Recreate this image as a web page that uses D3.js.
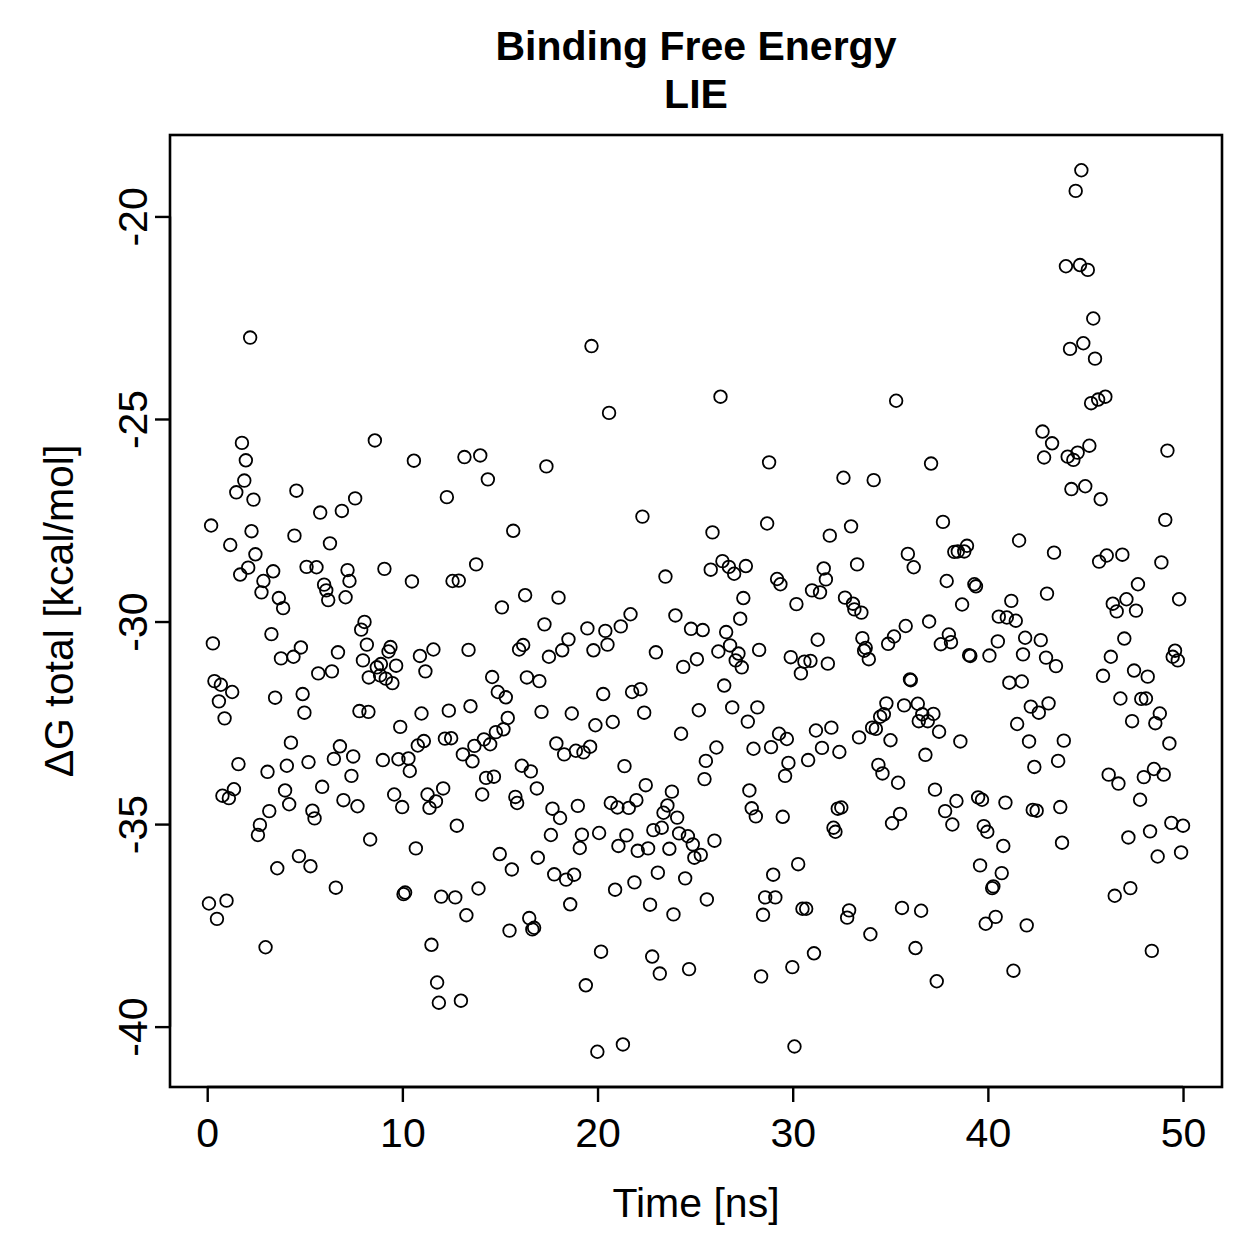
<!DOCTYPE html>
<html>
<head>
<meta charset="utf-8">
<script src="https://cdn.jsdelivr.net/npm/d3@7"></script>
<style>
  body { margin: 0; background: #fff; }
  text { font-family: "Liberation Sans", Arial, Helvetica, sans-serif; fill: #000; }
</style>
</head>
<body>
<svg id="chart" width="1259" height="1259"></svg>
<script>
// LIE binding free energy per frame
const time = [
  0.20, 0.29, 0.09, 0.37, 0.50, 0.60, 0.70, 0.78, 0.89, 0.99,
  1.11, 1.18, 1.28, 1.37, 1.49, 1.60, 1.69, 1.78, 1.90, 1.98,
  2.10, 2.20, 2.27, 2.37, 2.47, 2.60, 2.70, 2.78, 2.88, 2.99,
  3.09, 3.18, 3.29, 3.38, 3.48, 3.59, 3.67, 3.78, 3.89, 3.99,
  4.08, 4.20, 4.29, 4.42, 4.47, 4.57, 4.70, 4.80, 4.89, 4.98,
  5.09, 5.19, 5.29, 5.39, 5.50, 5.60, 5.69, 5.79, 5.89, 5.99,
  6.10, 6.20, 6.29, 6.39, 6.49, 6.59, 6.70, 6.80, 6.90, 6.98,
  7.09, 7.19, 7.29, 7.39, 7.48, 7.58, 7.70, 7.80, 7.89, 7.98,
  8.06, 8.18, 8.26, 8.28, 8.35, 8.59, 8.69, 8.90, 8.86, 9.00,
  9.08, 9.15, 9.29, 9.39, 9.49, 9.58, 9.68, 9.80, 9.89, 9.99,
  10.06, 10.14, 10.31, 10.38, 10.49, 10.59, 10.69, 10.79, 10.90, 10.98,
  11.10, 11.18, 11.29, 11.39, 11.49, 11.59, 11.72, 11.78, 11.87, 11.99,
  12.09, 12.18, 12.28, 12.38, 12.50, 12.57, 12.71, 12.79, 12.89, 13.00,
  13.10, 13.18, 13.28, 13.39, 13.49, 13.59, 13.69, 13.78, 13.90, 13.99,
  14.09, 14.18, 14.29, 14.38, 14.50, 14.60, 14.69, 14.79, 14.89, 14.99,
  15.10, 15.18, 15.30, 15.40, 15.49, 15.61, 15.68, 15.79, 15.88, 15.98,
  16.12, 16.19, 16.29, 16.38, 16.50, 16.58, 16.66, 16.75, 16.89, 16.94,
  17.02, 17.13, 17.28, 17.38, 17.51, 17.61, 17.69, 17.78, 17.89, 18.00,
  18.08, 18.19, 18.29, 18.39, 18.51, 18.60, 18.68, 18.80, 18.89, 18.99,
  19.09, 19.20, 19.28, 19.40, 19.48, 19.62, 19.69, 19.79, 19.89, 19.99,
  20.08, 20.18, 20.29, 20.40, 20.51, 20.59, 20.68, 20.78, 20.90, 21.02,
  21.07, 21.19, 21.30, 21.38, 21.48, 21.60, 21.69, 21.77, 21.89, 21.99,
  22.06, 22.20, 22.30, 22.39, 22.47, 22.59, 22.69, 22.80, 22.86, 22.99,
  23.09, 23.19, 23.29, 23.38, 23.48, 23.58, 23.68, 23.81, 23.89, 23.99,
  24.08, 24.18, 24.28, 24.39, 24.49, 24.63, 24.69, 24.79, 24.88, 24.96,
  25.09, 25.19, 25.29, 25.39, 25.48, 25.55, 25.60, 25.80, 25.89, 25.99,
  26.09, 26.19, 26.30, 26.40, 26.49, 26.59, 26.73, 26.79, 26.90, 27.00,
  27.08, 27.22, 27.31, 27.39, 27.47, 27.60, 27.70, 27.78, 27.90, 27.99,
  28.11, 28.19, 28.28, 28.38, 28.48, 28.59, 28.69, 28.79, 28.89, 29.00,
  29.11, 29.20, 29.30, 29.37, 29.49, 29.61, 29.70, 29.78, 29.90, 29.98,
  30.09, 30.19, 30.28, 30.42, 30.50, 30.60, 30.69, 30.79, 30.91, 30.99,
  31.09, 31.19, 31.28, 31.40, 31.50, 31.59, 31.70, 31.80, 31.90, 31.98,
  32.09, 32.19, 32.31, 32.39, 32.49, 32.60, 32.68, 32.79, 32.89, 32.99,
  33.09, 33.16, 33.30, 33.40, 33.52, 33.57, 33.66, 33.74, 33.90, 33.98,
  34.07, 34.15, 34.26, 34.39, 34.48, 34.60, 34.67, 34.80, 34.89, 35.01,
  35.09, 35.19, 35.30, 35.40, 35.50, 35.60, 35.71, 35.79, 35.90, 36.01,
  36.05, 36.20, 36.29, 36.41, 36.46, 36.58, 36.64, 36.80, 36.92, 36.99,
  37.09, 37.21, 37.29, 37.38, 37.50, 37.59, 37.70, 37.81, 37.89, 38.00,
  38.11, 38.18, 38.28, 38.39, 38.46, 38.59, 38.68, 38.79, 38.93, 39.04,
  39.10, 39.31, 39.39, 39.50, 39.60, 39.70, 39.79, 39.89, 39.97, 40.08,
  40.22, 40.28, 40.40, 40.51, 40.56, 40.71, 40.79, 40.90, 40.97, 41.10,
  41.20, 41.31, 41.43, 41.50, 41.60, 41.74, 41.80, 41.91, 41.99, 42.11,
  42.20, 42.30, 42.38, 42.50, 42.61, 42.71, 42.80, 42.88, 42.98, 43.03,
  43.11, 43.29, 43.39, 43.49, 43.60, 43.71, 43.80, 43.89, 44.00, 44.09,
  44.21, 44.28, 44.38, 44.50, 44.60, 44.72, 44.79, 44.89, 44.99, 45.12,
  45.20, 45.29, 45.40, 45.49, 45.65, 45.70, 45.78, 45.90, 46.02, 46.09,
  46.19, 46.30, 46.40, 46.50, 46.60, 46.69, 46.79, 46.89, 46.99, 47.10,
  47.20, 47.30, 47.39, 47.49, 47.59, 47.69, 47.80, 47.86, 47.99, 48.10,
  48.19, 48.31, 48.40, 48.51, 48.58, 48.70, 48.81, 48.89, 49.01, 49.09,
  49.20, 49.30, 49.40, 49.47, 49.59, 49.73, 49.80, 49.90, 50.00
];

const dG = [
  -27.63, -30.54, -36.96, -31.47, -37.34, -31.97, -31.56, -34.30, -32.39, -36.89,
  -34.36, -28.11, -31.74, -34.14, -26.81, -33.52, -28.84, -25.59, -26.52, -26.02,
  -28.67, -22.99, -27.77, -26.99, -28.34, -35.27, -35.02, -29.28, -29.00, -38.04,
  -33.71, -34.68, -30.31, -28.76, -31.88, -36.09, -29.42, -30.91, -29.67, -34.17,
  -33.56, -34.51, -32.99, -30.87, -27.88, -26.77, -35.79, -30.64, -31.79, -32.25,
  -28.65, -33.47, -36.04, -34.67, -34.86, -28.66, -31.28, -27.31, -34.08, -29.09,
  -29.23, -29.47, -28.07, -31.23, -33.39, -36.57, -30.76, -33.08, -27.27, -34.41,
  -29.40, -28.73, -29.00, -33.81, -33.33, -26.96, -34.56, -32.21, -30.20, -30.96,
  -30.01, -30.57, -32.23, -31.38, -35.38, -25.53, -31.13, -31.05, -31.33, -33.42,
  -28.70, -31.41, -30.74, -30.63, -31.52, -34.27, -31.09, -33.40, -32.60, -34.58,
  -36.73, -36.69, -33.38, -33.69, -29.01, -26.03, -35.60, -33.06, -30.85, -32.27,
  -32.95, -31.23, -34.27, -34.60, -37.98, -30.69, -34.44, -38.91, -39.41, -36.79,
  -34.12, -32.89, -26.93, -32.20, -32.88, -29.00, -36.81, -35.04, -28.99, -39.36,
  -33.28, -25.94, -37.25, -30.70, -32.09, -33.45, -33.07, -28.59, -36.59, -25.90,
  -34.27, -32.91, -33.86, -26.49, -33.03, -31.37, -33.83, -32.73, -31.74, -35.74,
  -29.65, -32.66, -31.87, -32.38, -37.63, -36.12, -27.76, -34.33, -34.48, -30.69,
  -33.56, -30.58, -29.35, -31.38, -37.32, -33.70, -37.60, -37.56, -34.12, -35.83,
  -31.47, -32.23, -30.07, -26.17, -30.87, -35.27, -34.62, -36.24, -33.01, -29.41,
  -34.85, -30.71, -33.28, -36.37, -30.44, -36.98, -32.27, -36.25, -33.19, -34.55,
  -35.59, -35.26, -33.23, -38.98, -30.17, -33.09, -23.20, -30.71, -32.56, -40.62,
  -35.22, -38.15, -31.79, -30.23, -30.57, -24.85, -34.48, -32.48, -36.62, -34.59,
  -35.54, -30.12, -40.44, -33.57, -35.28, -34.60, -29.82, -31.74, -36.44, -34.41,
  -35.66, -31.67, -27.41, -32.25, -34.04, -35.60, -36.99, -38.27, -35.15, -30.76,
  -36.20, -38.69, -35.09, -34.72, -28.89, -34.54, -35.61, -34.20, -37.23, -29.85,
  -34.84, -35.23, -32.77, -31.12, -36.34, -35.30, -38.58, -30.18, -35.50, -35.83,
  -30.93, -32.19, -35.76, -30.21, -33.89, -33.44, -36.86, -28.72, -27.80, -35.41,
  -33.11, -30.74, -24.45, -28.51, -31.58, -30.26, -28.65, -30.59, -32.12, -28.82,
  -30.96, -30.79, -29.93, -31.13, -29.42, -28.63, -32.47, -34.17, -34.61, -33.14,
  -34.81, -32.12, -30.70, -38.76, -37.24, -36.81, -27.58, -26.07, -33.10, -36.25,
  -36.81, -28.95, -32.77, -29.08, -34.82, -33.81, -32.90, -33.49, -30.88, -38.53,
  -40.49, -29.57, -35.99, -31.28, -37.09, -30.99, -37.09, -33.42, -30.97, -29.23,
  -38.19, -32.69, -30.45, -29.28, -33.12, -28.69, -28.96, -31.04, -27.88, -32.62,
  -35.09, -35.19, -34.62, -33.22, -34.59, -26.45, -29.41, -37.31, -37.13, -27.65,
  -29.56, -29.70, -28.59, -32.86, -29.78, -30.41, -30.72, -30.65, -30.93, -37.72,
  -32.62, -26.51, -32.65, -33.54, -32.35, -33.75, -32.29, -32.02, -30.55, -32.93,
  -34.98, -30.37, -24.55, -33.98, -34.75, -37.07, -32.07, -30.11, -28.33, -31.43,
  -31.45, -28.66, -38.06, -32.03, -32.46, -37.14, -32.29, -33.29, -32.46, -30.00,
  -26.10, -32.28, -34.15, -38.88, -32.72, -30.56, -27.54, -34.68, -29.00, -30.32,
  -30.51, -35.01, -28.28, -34.43, -28.27, -32.96, -29.58, -28.27, -28.13, -30.83,
  -30.85, -29.08, -29.13, -34.34, -36.02, -34.40, -35.05, -37.46, -35.19, -30.84,
  -36.58, -36.54, -37.29, -30.49, -29.88, -36.21, -35.54, -34.47, -29.90, -31.51,
  -29.49, -38.62, -29.98, -32.53, -28.00, -31.48, -30.81, -30.40, -37.50, -32.96,
  -32.10, -34.65, -33.59, -34.67, -32.25, -30.46, -25.31, -25.95, -30.89, -29.31,
  -32.02, -25.60, -28.30, -31.10, -33.44, -34.58, -35.46, -32.94, -21.23, -25.93,
  -23.27, -26.73, -26.01, -19.37, -25.83, -21.20, -18.86, -23.13, -26.66, -21.32,
  -25.66, -24.61, -22.52, -23.51, -24.52, -28.52, -26.98, -31.34, -24.45, -28.37,
  -33.78, -30.87, -29.56, -36.77, -29.75, -34.00, -31.90, -28.35, -30.42, -29.45,
  -35.33, -36.58, -32.46, -31.21, -29.73, -29.08, -34.40, -31.91, -33.84, -31.90,
  -31.36, -35.18, -38.13, -33.64, -32.51, -35.80, -32.27, -28.54, -33.78, -27.49,
  -25.78, -33.01, -34.97, -30.87, -30.72, -30.96, -29.45, -35.70, -35.04
];

const xTicks = [0, 10, 20, 30, 40, 50];
const yTicks = [-40, -35, -30, -25, -20];
const titleLines = ['Binding Free Energy', 'LIE'];
const xLabel = 'Time [ns]';
const yLabel = 'ΔG total [kcal/mol]';

const points = time.map((t, i) => ({ t: t, g: dG[i] }));

const box = { left: 170, right: 1222, top: 135, bottom: 1087 };
const fontSize = 41;

// R style: data range stretched by 4% on each side
function padded(ext) {
  let d = (ext[1] - ext[0]) * 0.04;
  return [ext[0] - d, ext[1] + d];
}

const x = d3.scaleLinear()
  .domain(padded(d3.extent(time)))
  .range([box.left, box.right]);

const y = d3.scaleLinear()
  .domain(padded(d3.extent(dG)))
  .range([box.bottom, box.top]);

const svg = d3.select('#chart');

// points
svg.append('g')
  .selectAll('circle')
  .data(points)
  .join('circle')
  .attr('cx', (d) => x(d.t))
  .attr('cy', (d) => y(d.g))
  .attr('r', 6.3)
  .attr('fill', 'none')
  .attr('stroke', '#000')
  .attr('stroke-width', 1.8);

// x axis
let xAxis = svg.append('g')
  .attr('transform', `translate(0,${box.bottom})`)
  .call(d3.axisBottom(x).tickValues(xTicks).tickSize(15).tickSizeOuter(0).tickPadding(16));

// y axis
let yAxis = svg.append('g')
  .attr('transform', `translate(${box.left},0)`)
  .call(d3.axisLeft(y).tickValues(yTicks).tickSize(15).tickSizeOuter(0)
    .tickFormat((d) => d3.format('d')(d).replace('−', '-')));

[xAxis, yAxis].forEach((ax) => {
  ax.select('.domain').remove();
  ax.selectAll('.tick line').attr('stroke', '#000').attr('stroke-width', 2.4);
  ax.selectAll('.tick text').attr('font-size', fontSize).attr('fill', '#000');
});

// R draws the axis line only from first to last tick
xAxis.append('line')
  .attr('x1', x(xTicks[0])).attr('x2', x(xTicks[xTicks.length - 1]))
  .attr('stroke', '#000').attr('stroke-width', 2.4);
yAxis.append('line')
  .attr('y1', y(yTicks[0])).attr('y2', y(yTicks[yTicks.length - 1]))
  .attr('stroke', '#000').attr('stroke-width', 2.4);

xAxis.selectAll('.tick text').attr('dy', '0.71em');

yAxis.selectAll('.tick text')
  .attr('x', 0)
  .attr('y', -23)
  .attr('dy', 0)
  .attr('text-anchor', 'middle')
  .attr('transform', 'rotate(-90)');

// frame
svg.append('rect')
  .attr('x', box.left)
  .attr('y', box.top)
  .attr('width', box.right - box.left)
  .attr('height', box.bottom - box.top)
  .attr('fill', 'none')
  .attr('stroke', '#000')
  .attr('stroke-width', 2.6);

// titles
let cx = (box.left + box.right) / 2;
svg.selectAll('.title')
  .data(titleLines)
  .join('text')
  .attr('class', 'title')
  .attr('x', cx)
  .attr('y', (d, i) => 60 + i * 48)
  .attr('text-anchor', 'middle')
  .attr('font-size', fontSize)
  .attr('font-weight', 'bold')
  .text((d) => d);

svg.append('text')
  .attr('x', cx)
  .attr('y', 1217)
  .attr('text-anchor', 'middle')
  .attr('font-size', fontSize)
  .text(xLabel);

svg.append('text')
  .attr('transform', `translate(73,${(box.top + box.bottom) / 2}) rotate(-90)`)
  .attr('text-anchor', 'middle')
  .attr('font-size', fontSize)
  .text(yLabel);
</script>
</body>
</html>
